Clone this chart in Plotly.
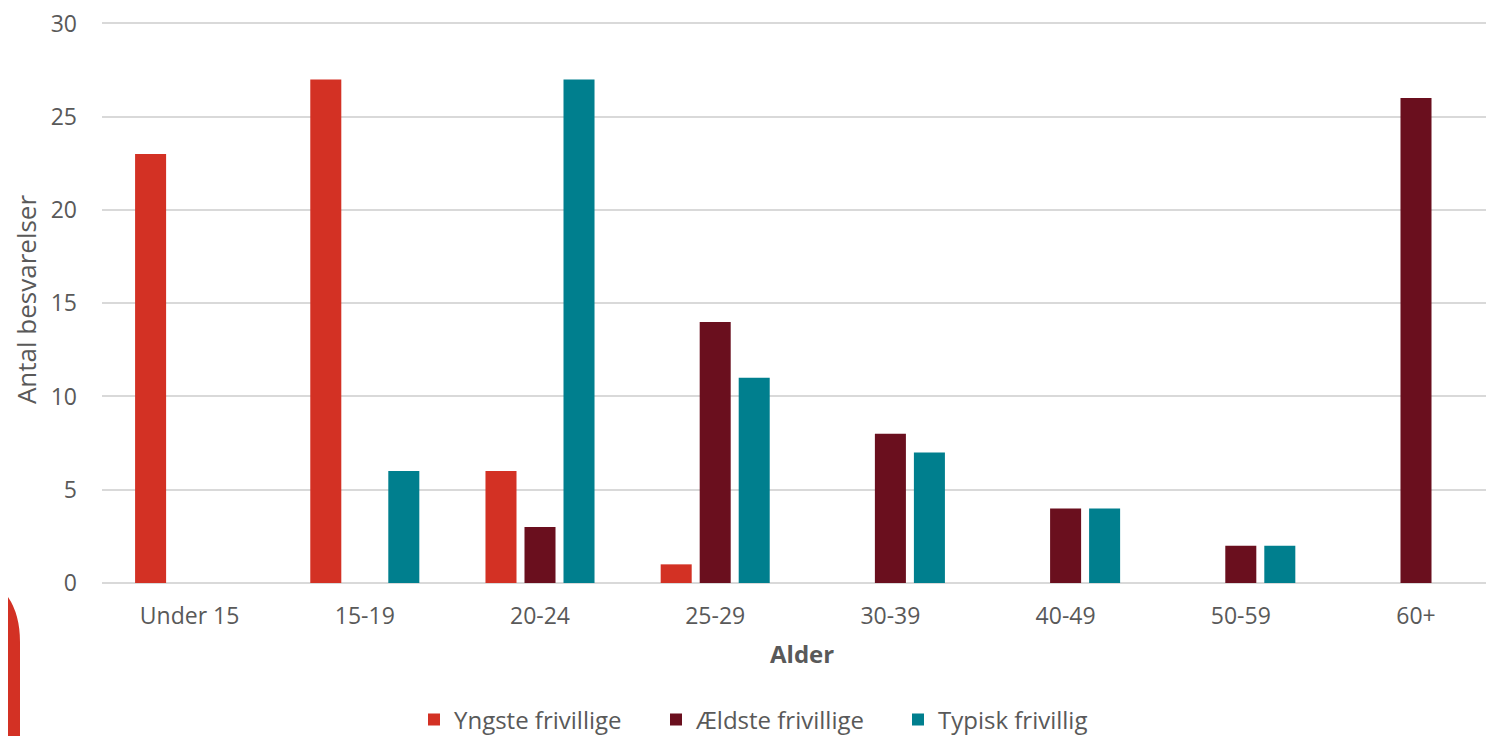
import plotly.graph_objects as go

categories = ["Under 15", "15-19", "20-24", "25-29", "30-39", "40-49", "50-59", "60+"]
yngste = [23, 27, 6, 1, 0, 0, 0, 0]
aeldste = [0, 0, 3, 14, 8, 4, 2, 26]
typisk = [0, 6, 27, 11, 7, 4, 2, 0]
series_names = ["Yngste frivillige", "Ældste frivillige", "Typisk frivillig"]
colors = ["#D33124", "#6A0F1E", "#007F8E"]

OFF = 8  # default page body margin
PW, PH = 1494, 736
W, H = PW - OFF, PH - OFF
Y_MAX_SHOWN = 30.4
px_per_unit = (583 - 23) / 30.0
top_px = 583 - Y_MAX_SHOWN * px_per_unit
# plot area in page pixels: x 102..1494 (continues past the picture edge), y top_px..583
ML, MR, MT, MB = 102 - OFF, 0, top_px - OFF, PH - 583
PLOT_W, PLOT_H = W - ML - MR, H - MT - MB
FONT = "Open Sans"
GRAY = "#595959"

fig = go.Figure()
for name, vals, c in zip(series_names, [yngste, aeldste, typisk], colors):
    fig.add_trace(go.Bar(x=categories, y=vals, name=name, marker_color=c,
                         marker_line_width=0))

def px2paper(x, y):
    # page pixel -> paper coords
    return (x - OFF - ML) / PLOT_W, (H - MB - (y - OFF)) / PLOT_H

pts = [(11, 780), (11, 642), (11, 604), (-14, 588)]
p = [px2paper(*q) for q in pts]
path = f"M {p[0][0]},{p[0][1]} L {p[1][0]},{p[1][1]} Q {p[2][0]},{p[2][1]} {p[3][0]},{p[3][1]}"
fig.add_shape(type="path", path=path, xref="paper", yref="paper",
              line=dict(color="#D33124", width=18), layer="above")

ax, ay = px2paper(802, 654)
fig.add_annotation(text="<b>Alder</b>", x=ax, y=ay, xref="paper", yref="paper",
                   showarrow=False, xanchor="center", yanchor="middle",
                   font=dict(size=24, color=GRAY, family=FONT))

cat_px = 175.2
fig.update_layout(
    width=W, height=H,
    margin=dict(l=ML, r=MR, t=MT, b=MB, autoexpand=False),
    paper_bgcolor="white", plot_bgcolor="white",
    barmode="group", bargap=0.332, bargroupgap=0.205,
    font=dict(family=FONT, size=23, color=GRAY),
    showlegend=True,
    legend=dict(orientation="h", x=(414 - OFF) / W, xanchor="left", xref="container",
                y=(PH - 720) / H, yanchor="middle", yref="container",
                font=dict(size=24, color=GRAY), itemwidth=30,
                entrywidth=197, entrywidthmode="pixels",
                traceorder="normal"),
    xaxis=dict(showgrid=False, showline=False, ticks="", automargin=False,
               range=[-0.5, -0.5 + PLOT_W / cat_px], ticklabeloverflow="allow",
               tickfont=dict(size=23, color=GRAY), ticklabelstandoff=17),
    yaxis=dict(range=[0, Y_MAX_SHOWN], tickvals=[0, 5, 10, 15, 20, 25, 30],
               showgrid=True, gridcolor="#D9D9D9", gridwidth=1.5,
               zeroline=True, zerolinecolor="#D9D9D9", zerolinewidth=1.5, automargin=False,
               showline=False, ticks="", tickfont=dict(size=23, color=GRAY),
               ticklabelstandoff=24, ticklabeloverflow="allow",
               title=dict(text="Antal besvarelser", font=dict(size=26, color=GRAY), standoff=9)),
)

fig.write_html("out.html")
